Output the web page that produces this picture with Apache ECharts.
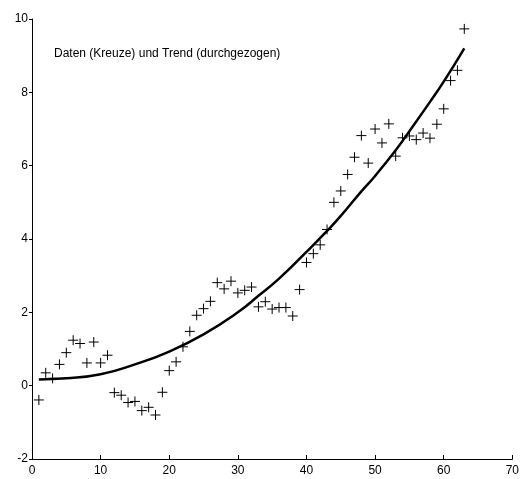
<!DOCTYPE html>
<html><head><meta charset="utf-8">
<script src="https://cdn.jsdelivr.net/npm/echarts@6/dist/echarts.min.js"></script>
<style>html,body{margin:0;padding:0;background:#fff}#c{width:522px;height:479px}</style>
</head><body><div id="c"></div>
<script>
const dataX = [1,2,3,4,5,6,7,8,9,10,11,12,13,14,15,16,17,18,19,20,21,22,23,24,25,26,27,28,29,30,31,32,33,34,35,36,37,38,39,40,41,42,43,44,45,46,47,48,49,50,51,52,53,54,55,56,57,58,59,60,61,62,63];
const dataY = [-0.39,0.35,0.2,0.58,0.9,1.24,1.15,0.62,1.19,0.62,0.83,-0.19,-0.26,-0.46,-0.43,-0.68,-0.59,-0.8,-0.18,0.41,0.65,1.06,1.48,1.92,2.1,2.3,2.81,2.64,2.85,2.53,2.6,2.69,2.15,2.29,2.09,2.13,2.13,1.9,2.62,3.36,3.6,3.84,4.26,5.0,5.31,5.76,6.23,6.82,6.07,7.0,6.62,7.14,6.26,6.76,6.81,6.71,6.89,6.75,7.13,7.55,8.32,8.6,9.73];
const trendX = [1,5,10,15,20,25,30,33,36,40,43,45,48,50,53,55,58,60,63];
const trendY = [0.17,0.2,0.31,0.58,0.93,1.4,2.0,2.45,2.92,3.65,4.22,4.63,5.3,5.72,6.42,6.94,7.74,8.29,9.2];
const xTicks = [0,10,20,30,40,50,60,70];
const yTicks = [-2,0,2,4,6,8,10];
const title = 'Daten (Kreuze) und Trend (durchgezogen)';

const chart = echarts.init(document.getElementById('c'), null, {renderer:'canvas'});
const font = 'Liberation Sans, Arial, sans-serif';
chart.setOption({
  animation:false,
  backgroundColor:'#fff',
  grid:{left:32,right:5,top:19,bottom:20,containLabel:false},
  graphic:[{type:'text',left:54,top:48,style:{text:title,font:'12px '+font,fill:'#000'}}],
  xAxis:{type:'value',min:xTicks[0],max:xTicks[xTicks.length-1],interval:10,
    axisLine:{show:true,onZero:false,lineStyle:{color:'#000',width:1}},
    axisTick:{show:true,inside:true,length:4,lineStyle:{color:'#000'}},
    axisLabel:{color:'#000',fontSize:12,fontFamily:font,margin:6},
    splitLine:{show:false}},
  yAxis:{type:'value',min:yTicks[0],max:yTicks[yTicks.length-1],interval:2,
    axisLine:{show:true,onZero:false,lineStyle:{color:'#000',width:1}},
    axisTick:{show:true,inside:false,length:3,lineStyle:{color:'#000'}},
    axisLabel:{color:'#000',fontSize:12,fontFamily:font,margin:4},
    splitLine:{show:false}},
  series:[
    {type:'line',data:trendX.map((x,i)=>[x,trendY[i]]),smooth:true,showSymbol:false,
     lineStyle:{color:'#000',width:2.5},z:2},
    {type:'scatter',data:dataX.map((x,i)=>[x,dataY[i]]),
     symbol:'path://M0,5L10,5M5,0L5,10',symbolSize:10,
     itemStyle:{color:'rgba(0,0,0,0)',borderColor:'#000',borderWidth:1,opacity:1},z:3}
  ]
});
</script></body></html>
